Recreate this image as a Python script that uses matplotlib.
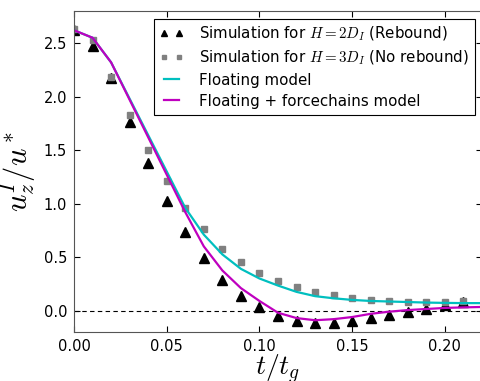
import matplotlib
matplotlib.use("Agg")
import matplotlib.pyplot as plt
import numpy as np

plt.rcParams['mathtext.fontset'] = 'cm'
plt.rcParams['font.family'] = ['DejaVu Sans']

# time samples (t / t_g)
t_sim = [0.00, 0.01, 0.02, 0.03, 0.04, 0.05, 0.06, 0.07, 0.08, 0.09, 0.10,
         0.11, 0.12, 0.13, 0.14, 0.15, 0.16, 0.17, 0.18, 0.19, 0.20, 0.21]

# simulation, H = 2 D_I (rebound)
u_rebound = [2.62, 2.47, 2.17, 1.76, 1.38, 1.02, 0.73, 0.49, 0.29, 0.14, 0.03,
             -0.05, -0.10, -0.12, -0.12, -0.10, -0.07, -0.04, -0.01, 0.015, 0.05, 0.08]

# simulation, H = 3 D_I (no rebound)
u_norebound = [2.63, 2.53, 2.18, 1.83, 1.50, 1.21, 0.96, 0.76, 0.58, 0.45, 0.35,
               0.275, 0.225, 0.178, 0.147, 0.122, 0.10, 0.087, 0.078, 0.078, 0.084, 0.094]

# model curves
t_model = [0.00, 0.01, 0.02, 0.03, 0.04, 0.05, 0.06, 0.07, 0.08, 0.09, 0.10, 0.11,
           0.12, 0.13, 0.14, 0.15, 0.16, 0.17, 0.18, 0.19, 0.20, 0.21, 0.22]
u_floating = [2.62, 2.55, 2.32, 1.98, 1.64, 1.30, 0.96, 0.71, 0.525, 0.39, 0.30, 0.234,
              0.175, 0.135, 0.115, 0.10, 0.09, 0.085, 0.08, 0.075, 0.072, 0.07, 0.07]
u_forcechains = [2.62, 2.55, 2.32, 1.97, 1.62, 1.27, 0.92, 0.60, 0.375, 0.21, 0.09, -0.02,
                 -0.07, -0.09, -0.08, -0.06, -0.03, -0.01, 0.005, 0.015, 0.025, 0.03, 0.034]

fig = plt.figure(figsize=(4.8, 3.81), dpi=100)
ax = fig.add_axes([74 / 480, 1 - 332 / 381, (482 - 74) / 480, 321 / 381])

ax.axhline(0, color='k', ls='--', lw=0.8, dashes=(4, 3))
ax.plot(t_sim, u_rebound, ls='none', marker='^', ms=6.5, color='k', mec='k',
        label='Simulation for $H=2D_I$ (Rebound)')
ax.plot(t_sim, u_norebound, ls='none', marker='s', ms=4.5, color='#808080', mec='#808080',
        label='Simulation for $H=3D_I$ (No rebound)')
ax.plot(t_model, u_floating, color='#00BFBF', lw=1.6, label='Floating model')
ax.plot(t_model, u_forcechains, color='#BF00BF', lw=1.6, label='Floating + forcechains model')

ax.set_xlim(0, 0.22)
ax.set_ylim(-0.2, 2.8)
ax.set_xticks([0.00, 0.05, 0.10, 0.15, 0.20])
ax.set_xticklabels(['0.00', '0.05', '0.10', '0.15', '0.20'])
ax.set_yticks([0.0, 0.5, 1.0, 1.5, 2.0, 2.5])
ax.set_yticklabels(['0.0', '0.5', '1.0', '1.5', '2.0', '2.5'])
ax.tick_params(direction='in', top=True, right=True, labelsize=10.5, length=4, pad=5)
for s in ax.spines.values():
    s.set_color('#555555')

ax.set_xlabel('$t/t_g$', fontsize=20, labelpad=-1)
ax.set_ylabel('$u_z^I/u^*$', fontsize=22, labelpad=4)

leg = ax.legend(loc='upper right', numpoints=2, fontsize=10.8, fancybox=False,
                framealpha=1, edgecolor='k', handlelength=1.6, handletextpad=1.0,
                markerscale=0.75, labelspacing=0.4, borderaxespad=0.5)
leg.get_frame().set_linewidth(0.8)

fig.savefig('out.png', dpi=100)
